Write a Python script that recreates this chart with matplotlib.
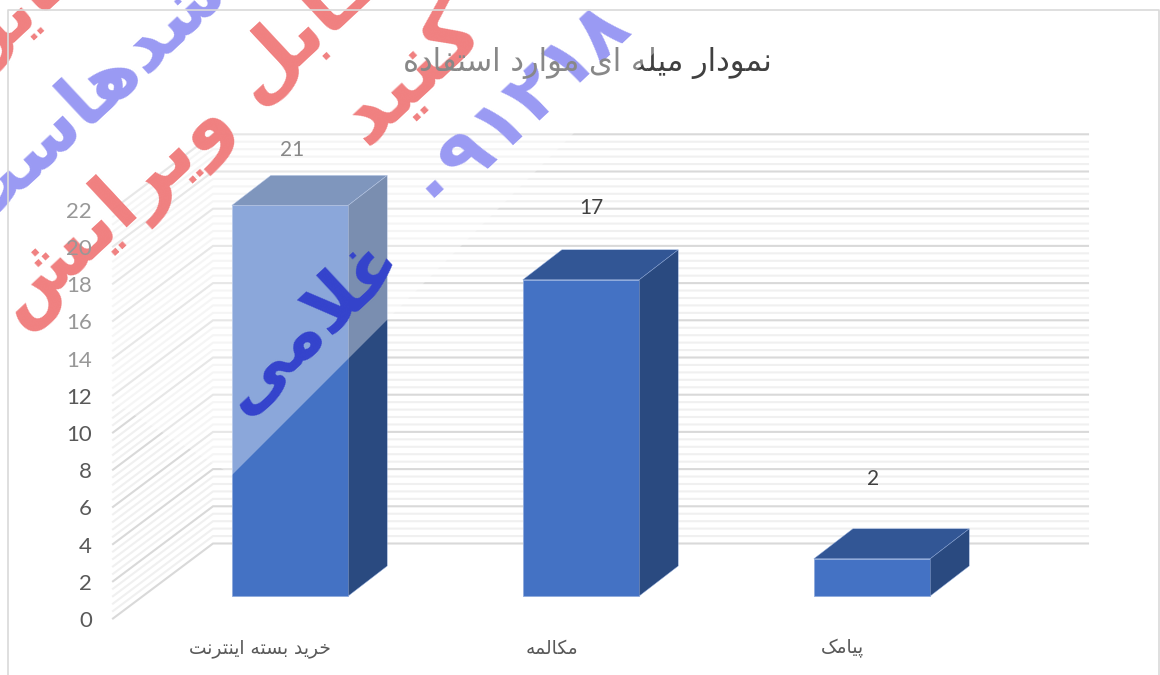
import matplotlib
matplotlib.use("Agg")
import matplotlib.pyplot as plt
import numpy as np
from matplotlib.patches import Polygon

plt.rcParams['font.family'] = ['Lato', 'DejaVu Sans']

title = "نمودار میله ای موارد استفاده"
categories = ["خرید بسته اینترنت", "مکالمه", "پیامک"]
values = [21, 17, 2]
ticks = [0, 2, 4, 6, 8, 10, 12, 14, 16, 18, 20, 22]
minor_step = 0.4

# isolated, final, initial, medial
forms = {
    'ا': (0xFE8D, 0xFE8E), 'د': (0xFEA9, 0xFEAA), 'ر': (0xFEAD, 0xFEAE), 'و': (0xFEED, 0xFEEE),
    'ب': (0xFE8F, 0xFE90, 0xFE91, 0xFE92), 'پ': (0xFB56, 0xFB57, 0xFB58, 0xFB59),
    'ت': (0xFE95, 0xFE96, 0xFE97, 0xFE98), 'خ': (0xFEA5, 0xFEA6, 0xFEA7, 0xFEA8),
    'س': (0xFEB1, 0xFEB2, 0xFEB3, 0xFEB4), 'ش': (0xFEB5, 0xFEB6, 0xFEB7, 0xFEB8),
    'غ': (0xFECD, 0xFECE, 0xFECF, 0xFED0), 'ف': (0xFED1, 0xFED2, 0xFED3, 0xFED4),
    'ق': (0xFED5, 0xFED6, 0xFED7, 0xFED8), 'ک': (0xFB8E, 0xFB8F, 0xFB90, 0xFB91),
    'ل': (0xFEDD, 0xFEDE, 0xFEDF, 0xFEE0), 'م': (0xFEE1, 0xFEE2, 0xFEE3, 0xFEE4),
    'ن': (0xFEE5, 0xFEE6, 0xFEE7, 0xFEE8), 'ه': (0xFEE9, 0xFEEA, 0xFEEB, 0xFEEC),
    'ی': (0xFBFC, 0xFBFD, 0xFBFE, 0xFBFF),
}


def fa(text):
    # matplotlib does no shaping, so build the joined forms in visual order
    out = []
    n = len(text)
    i = 0
    while i < n:
        c = text[i]
        if c not in forms:
            out.append(c)
            i += 1
            continue
        prev_joins = i > 0 and text[i - 1] in forms and len(forms[text[i - 1]]) == 4
        if c == 'ل' and i + 1 < n and text[i + 1] == 'ا':
            out.append(chr(0xFEFC if prev_joins else 0xFEFB))
            i += 2
            continue
        next_joins = i + 1 < n and text[i + 1] in forms
        f = forms[c]
        if len(f) == 2:
            out.append(chr(f[1] if prev_joins else f[0]))
        elif prev_joins and next_joins:
            out.append(chr(f[3]))
        elif prev_joins:
            out.append(chr(f[1]))
        elif next_joins:
            out.append(chr(f[2]))
        else:
            out.append(chr(f[0]))
        i += 1
    return ''.join(reversed(out))


fig = plt.figure(figsize=(11.6, 6.75), dpi=100)
ax = fig.add_axes([0, 0, 1, 1])
ax.axis('off')

# x in category steps, y in chart units on the front plane of the bars
step_px = 291
unit_px = 18.6
ax.set_xlim(-290 / step_px, (1160 - 290) / step_px)
ax.set_ylim(-(675 - 596) / unit_px, 596 / unit_px)


def px(x, y):
    # picture pixels to axes data, for things that are not chart marks
    return (x - 290) / step_px, (596 - y) / unit_px


bar_w = 0.4
depth_x = 39 / step_px
depth_y = 30 / unit_px

floor_front = -22.5 / unit_px
floor_back = 52.5 / unit_px
wall_left = -77 / step_px
wall_right = 798 / step_px
side_left = -177 / step_px

# back wall and left wall grid
grid_vals = np.arange(0, max(ticks) + minor_step / 2, minor_step)
for v in grid_vals:
    major = abs(v / 2 - round(v / 2)) < 1e-6
    col = '#d9d9d9' if major else '#f0f0f0'
    z = 2 if major else 1
    ax.plot([side_left, wall_left, wall_right],
            [floor_front + v, floor_back + v, floor_back + v],
            color=col, lw=1.5, zorder=z, solid_joinstyle='miter')

# bars
xs = np.arange(len(values))
ax.bar(xs, values, width=bar_w, color='#4472C4', edgecolor='#8FAADC', linewidth=0.6, zorder=4)
for x, v in zip(xs, values):
    l = x - bar_w / 2
    r = x + bar_w / 2
    ax.add_patch(Polygon([(l, v), (r, v), (r + depth_x, v + depth_y), (l + depth_x, v + depth_y)],
                         facecolor='#325695', edgecolor='#8FAADC', linewidth=0.3, zorder=4))
    ax.add_patch(Polygon([(r, 0), (r + depth_x, depth_y), (r + depth_x, v + depth_y), (r, v)],
                         facecolor='#2A4A80', edgecolor='#8FAADC', linewidth=0.3, zorder=4))

# watermark, darker here because the white band goes over it later
red = '#E73232'
blue = '#5C5CED'
wm_font = dict(family='DejaVu Sans', weight='bold', ha='center', va='center',
               rotation_mode='anchor', clip_on=True, zorder=5)
ax.text(*px(88, 98), fa("شدهاست"), fontsize=54, color=blue, rotation=43, **wm_font)
ax.text(*px(190, 140), fa("قابل ویرایش"), fontsize=57, color=red, rotation=43, **wm_font)
ax.text(*px(410, 72), fa("کنید"), fontsize=60, color=red, rotation=43, **wm_font)
ax.text(*px(20, 5), fa("فایل"), fontsize=52, color=red, rotation=43, **wm_font)
ax.text(*px(515, 100), "۰۹۱۲۱۸", fontsize=54, color=blue, rotation=43, **wm_font)

# value labels sit above the bar tops
label_x = [2, 10, 1]
label_offset = [55.5, 72, 80]
for x, v, dx, off in zip(xs, values, label_x, label_offset):
    ax.text(x + dx / step_px, v + off / unit_px, str(v),
            fontsize=15, color='#404040', ha='center', va='center', zorder=6)

# axis numbers
for t in ticks:
    ax.text(px(92, 0)[0], floor_front + t - 2.5 / unit_px, str(t), fontsize=16, color='#595959',
            ha='right', va='center', zorder=6)

# category names
cat_shift = [-30, -29, -30]
for x, name, s in zip(xs, categories, cat_shift):
    ax.text(x + s / step_px, -52 / unit_px, fa(name), fontsize=13.4, color='#595959',
            family='DejaVu Sans', ha='center', va='center', zorder=6)

ax.text(*px(587, 63), fa(title), fontsize=22, color='#404040',
        family='DejaVu Sans', ha='center', va='center', zorder=6)

# white band of the picture, then the name on top and the frame
band = [(650, 57), (232, 475), (110, 400), (0, 320), (0, 0), (707, 0)]
ax.add_patch(Polygon([px(*p) for p in band], facecolor='white', edgecolor='none', alpha=0.38, zorder=7))
ax.text(*px(310, 325), fa("غلامی"), fontsize=52, color='#3443CC', rotation=43, **{**wm_font, 'zorder': 8})

frame = [(8, 700), (8, 10), (1159, 10), (1159, 700)]
ax.plot(*zip(*[px(*p) for p in frame]), color='#d9d9d9', lw=1.2, zorder=9)

fig.savefig('out.png', dpi=100)
